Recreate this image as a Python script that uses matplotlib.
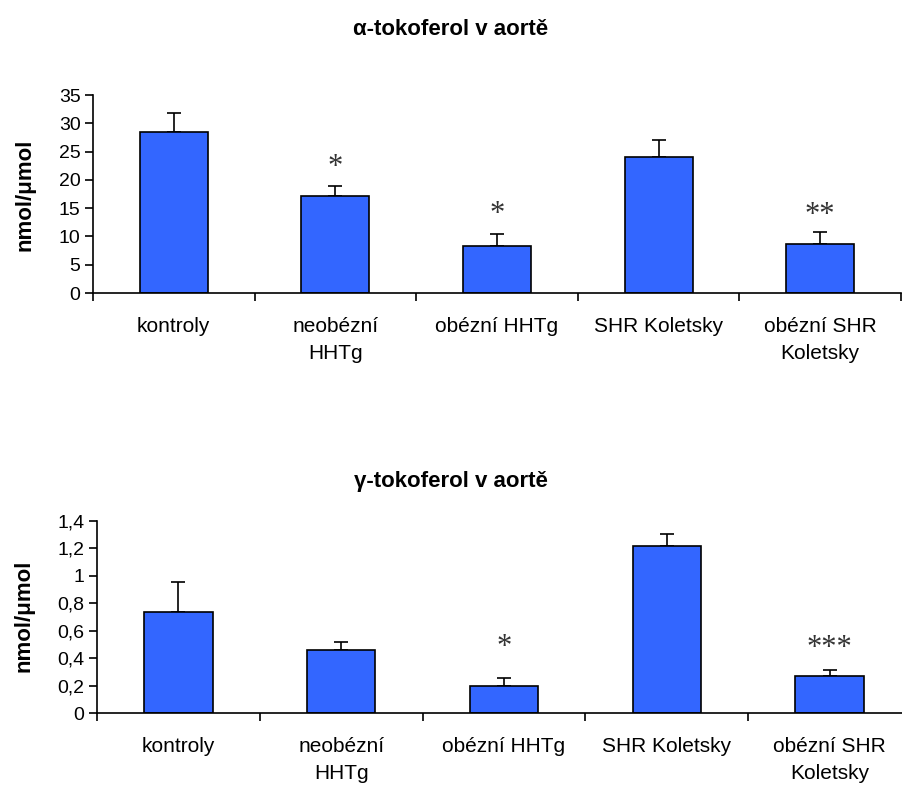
import matplotlib.pyplot as plt
import numpy as np

plt.rcParams['font.family'] = ['Liberation Sans', 'DejaVu Sans']

# categories (x labels)
groups = ['kontroly', 'neobézní\nHHTg', 'obézní HHTg', 'SHR Koletsky', 'obézní SHR\nKoletsky']

# alpha-tocopherol
alpha_mean = [28.4, 17.1, 8.3, 24.1, 8.7]
alpha_err = [3.5, 1.8, 2.1, 2.9, 2.0]
alpha_stars = ['', '*', '*', '', '**']
alpha_star_y = [0, 23.2, 14.8, 0, 14.7]
alpha_yticks = [0, 5, 10, 15, 20, 25, 30, 35]
alpha_yticklabels = ['0', '5', '10', '15', '20', '25', '30', '35']

# gamma-tocopherol
gamma_mean = [0.735, 0.46, 0.20, 1.215, 0.27]
gamma_err = [0.22, 0.06, 0.06, 0.09, 0.045]
gamma_stars = ['', '', '*', '', '***']
gamma_star_y = [0, 0, 0.52, 0, 0.515]
gamma_yticks = [0, 0.2, 0.4, 0.6, 0.8, 1.0, 1.2, 1.4]
gamma_yticklabels = ['0', '0,2', '0,4', '0,6', '0,8', '1', '1,2', '1,4']

bar_color = '#3366ff'


def draw_panel(ax, means, errs, stars, star_y, yticks, yticklabels):
    x = np.arange(len(groups))
    ax.bar(x, means, width=0.42, color=bar_color, edgecolor='black', linewidth=1.2, zorder=2)
    ax.errorbar(x, means, yerr=[np.zeros(len(errs)), errs], fmt='none', ecolor='black',
                elinewidth=1.2, capsize=5, capthick=1.2, zorder=1)
    for xi, s, sy in zip(x, stars, star_y):
        if s:
            # asterisk glyph sits high in its box, nudge it down a little
            ax.annotate(s, (xi, sy), xytext=(0, -4), textcoords='offset points',
                        ha='center', va='center', fontsize=22,
                        family='Liberation Serif', color='#333333')

    ax.set_xlim(-0.5, len(groups) - 0.5)
    ax.set_ylim(yticks[0], yticks[-1])
    ax.set_yticks(yticks)
    ax.set_yticklabels(yticklabels, fontsize=14)

    # ticks at category boundaries, labels at centres
    ax.set_xticks(np.arange(len(groups) + 1) - 0.5)
    ax.set_xticklabels([])
    ax.set_xticks(x, minor=True)
    ax.set_xticklabels(groups, minor=True, fontsize=15, linespacing=1.55, va='top')
    ax.tick_params(axis='x', which='minor', length=0, pad=17)
    ax.tick_params(axis='y', which='major', pad=3)
    ax.tick_params(axis='both', which='major', direction='out', length=6, width=1.2, color='black')

    for side in ['top', 'right']:
        ax.spines[side].set_visible(False)
    for side in ['left', 'bottom']:
        ax.spines[side].set_linewidth(1.2)


fig = plt.figure(figsize=(9.02, 7.86), dpi=100)

ax1 = fig.add_axes([0.1031, 0.6272, 0.8958, 0.2519])
draw_panel(ax1, alpha_mean, alpha_err, alpha_stars, alpha_star_y, alpha_yticks, alpha_yticklabels)

ax2 = fig.add_axes([0.1075, 0.0925, 0.9024, 0.245])
draw_panel(ax2, gamma_mean, gamma_err, gamma_stars, gamma_star_y, gamma_yticks, gamma_yticklabels)

fig.text(0.50, 0.963, 'α-tokoferol v aortě', ha='center', va='center', fontsize=16, fontweight='bold')
fig.text(0.50, 0.388, 'γ-tokoferol v aortě', ha='center', va='center', fontsize=16, fontweight='bold')

fig.text(0.028, 0.752, 'nmol/μmol', rotation=90, ha='center', va='center', fontsize=16, fontweight='bold')
fig.text(0.027, 0.216, 'nmol/μmol', rotation=90, ha='center', va='center', fontsize=16, fontweight='bold')

fig.savefig('out.png', dpi=100)
